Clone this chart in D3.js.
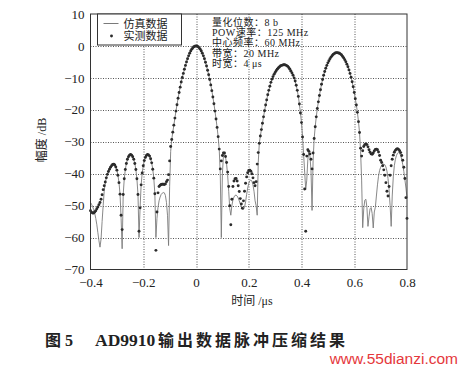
<!DOCTYPE html>
<html>
<head>
<meta charset="utf-8">
<script src="https://cdn.jsdelivr.net/npm/d3@7/dist/d3.min.js"></script>
<style>
  body { margin: 0; background: #fff; }
  svg { display: block; }
  .tick text { font-family: "Liberation Serif", "Times New Roman", serif; font-size: 13px; fill: #222; }
  .lbl { font-family: "Liberation Serif", "Noto Sans CJK SC", serif; fill: #222; }
</style>
</head>
<body>
<svg id="chart" width="463" height="368"></svg>
<script>
// sampling grid of the compressed output (us)
var t0 = -0.4, dt = 0.004;

var xTicks = [-0.4, -0.2, 0, 0.2, 0.4, 0.6, 0.8];
var yTicks = [10, 0, -10, -20, -30, -40, -50, -60, -70];

var seriesNames = ["仿真数据", "实测数据"];

var infoLines = ["量化位数：8 b", "POW速率：125 MHz", "中心频率：60 MHz", "带宽：20 MHz", "时宽：4 μs"];

// measured data, dB (dots)
var measured = [
  -51.6, -52.1, -52.3, -52.3, -52.0, -51.6, -51.0, -50.4, -49.7, -49.0,
  -48.0, -46.6, -45.0, -43.8, -42.6, -41.3, -40.2, -39.3, -38.6, -38.0,
  -37.5, -37.1, -37.0, -37.3, -37.9, -38.9, -40.5, -42.8, -46.4, -53.0,
  -57.5, -46.5, -41.6, -38.7, -36.8, -35.5, -34.7, -34.2, -34.0, -34.2,
  -34.7, -35.5, -36.8, -38.7, -41.6, -46.5, -58.0, -50.7, -43.5, -39.8,
  -37.5, -35.9, -34.9, -34.3, -34.0, -34.1, -34.5, -35.3, -36.6, -38.6,
  -41.4, -46.3, -64.0, -52.0, -46.0, -44.0, -43.6, -43.4, -43.3, -43.3,
  -43.4, -43.2, -42.5, -42.0, -40.3, -36.0, -31.5, -29.3, -27.0, -24.8,
  -22.6, -20.4, -18.4, -16.4, -14.6, -12.9, -11.3, -9.9, -8.6, -7.3,
  -6.1, -5.0, -4.0, -3.1, -2.3, -1.6, -1.0, -0.55, -0.25, -0.06,
  0, -0.06, -0.26, -0.58, -1.0, -1.6, -2.3, -3.1, -4.0, -5.1,
  -6.3, -7.6, -9.0, -10.5, -12.2, -14.0, -16.0, -18.1, -20.4, -22.9,
  -25.5, -28.4, -32.3, -38.5, -36.0, -34.3, -33.5, -33.5, -34.6, -36.5,
  -39.5, -44.0, -50.0, -56.0, -48.0, -44.0, -42.3, -41.6, -41.5, -42.3,
  -43.8, -45.6, -47.8, -49.5, -50.8, -48.5, -45.5, -43.0, -41.0, -39.7,
  -39.0, -38.9, -39.2, -40.0, -41.3, -42.8, -43.8, -42.5, -37.0, -33.4,
  -30.5, -28.2, -26.2, -24.2, -22.2, -20.3, -18.5, -16.9, -15.3, -13.9,
  -12.6, -11.4, -10.4, -9.6, -8.9, -8.3, -7.75, -7.3, -6.9, -6.6,
  -6.3, -6.1, -6.0, -5.9, -5.9, -6.0, -6.15, -6.4, -6.8, -7.3,
  -7.9, -8.5, -9.2, -10.0, -11.0, -12.3, -13.9, -15.8, -18.2, -21.0,
  -24.0, -28.5, -34.0, -44.8, -58.0, -34.5, -32.5, -33.0, -33.8, -35.5,
  -38.5, -33.5, -29.0, -25.3, -22.2, -19.6, -17.5, -15.5, -13.7, -12.0,
  -10.5, -9.2, -8.0, -7.0, -6.1, -5.3, -4.65, -4.0, -3.5, -3.05,
  -2.7, -2.4, -2.2, -2.1, -2.1, -2.2, -2.3, -2.55, -2.85, -3.3,
  -3.75, -4.3, -4.95, -5.7, -6.5, -7.5, -8.6, -9.8, -11.2, -12.8,
  -14.6, -16.5, -18.5, -20.8, -23.7, -27.1, -32.0, -34.5, -32.8, -31.5,
  -30.9, -30.7, -30.9, -31.6, -32.5, -33.3, -33.8, -33.9, -33.5, -32.9,
  -32.4, -32.3, -32.5, -33.2, -34.3, -35.8, -36.5, -37.5, -38.8, -40.5,
  -42.8, -45.5, -47.0, -44.0, -40.5, -37.5, -35.5, -34.2, -33.3, -32.7,
  -32.3, -32.2, -32.4, -32.8, -33.4, -34.3, -35.8, -38.0, -41.5, -47.5,
  -54.0
];

// simulated data, dB (thin line)
var simulated = [
  -49.0, -49.6, -50.3, -51.2, -52.4, -54.0, -56.0, -58.5, -61.0, -63.0,
  -60.5, -55.0, -50.0, -45.5, -42.8, -41.3, -40.2, -39.3, -38.6, -38.0,
  -37.5, -37.1, -37.0, -37.3, -37.9, -38.9, -40.5, -42.8, -46.4, -54.0,
  -63.5, -46.5, -41.6, -38.7, -36.8, -35.5, -34.7, -34.2, -34.0, -34.2,
  -34.7, -35.5, -36.8, -38.7, -41.6, -46.5, -60.0, -50.7, -43.5, -39.8,
  -37.5, -35.9, -34.9, -34.3, -34.0, -34.1, -34.5, -35.3, -36.6, -38.6,
  -41.4, -46.3, -60.0, -54.0, -50.5, -48.5, -47.3, -46.5, -46.1, -45.9,
  -46.0, -46.8, -49.0, -53.0, -62.5, -44.0, -33.0, -29.3, -27.0, -24.8,
  -22.6, -20.4, -18.4, -16.4, -14.6, -12.9, -11.3, -9.9, -8.6, -7.3,
  -6.1, -5.0, -4.0, -3.1, -2.3, -1.6, -1.0, -0.55, -0.25, -0.06,
  0, -0.06, -0.26, -0.58, -1.0, -1.6, -2.3, -3.1, -4.0, -5.1,
  -6.3, -7.6, -9.0, -10.5, -12.2, -14.0, -16.0, -18.1, -20.4, -22.9,
  -25.5, -28.4, -32.3, -40.0, -60.0, -40.0, -34.5, -33.5, -34.8, -37.0,
  -40.5, -45.5, -51.0, -53.0, -50.0, -48.2, -47.3, -46.8, -46.7, -47.0,
  -47.6, -48.5, -49.5, -50.4, -51.0, -51.2, -50.5, -48.8, -46.5, -44.5,
  -43.0, -42.2, -42.0, -42.3, -43.5, -45.5, -48.5, -50.0, -53.0, -36.5,
  -30.5, -28.2, -26.2, -24.2, -22.2, -20.3, -18.5, -16.9, -15.3, -13.9,
  -12.6, -11.4, -10.4, -9.6, -8.9, -8.3, -7.75, -7.3, -6.9, -6.6,
  -6.3, -6.1, -6.0, -5.9, -5.9, -6.0, -6.15, -6.4, -6.8, -7.3,
  -7.9, -8.5, -9.2, -10.0, -11.0, -12.3, -13.9, -15.8, -18.2, -21.0,
  -24.0, -28.5, -34.0, -39.5, -45.0, -42.0, -35.5, -33.4, -34.5, -39.0,
  -51.5, -36.0, -29.0, -25.3, -22.2, -19.6, -17.5, -15.5, -13.7, -12.0,
  -10.5, -9.2, -8.0, -7.0, -6.1, -5.3, -4.65, -4.0, -3.5, -3.05,
  -2.7, -2.4, -2.2, -2.1, -2.1, -2.2, -2.3, -2.55, -2.85, -3.3,
  -3.75, -4.3, -4.95, -5.7, -6.5, -7.5, -8.6, -9.8, -11.2, -12.8,
  -14.6, -16.5, -18.5, -20.8, -23.7, -27.1, -33.0, -42.0, -56.9, -51.0,
  -48.3, -48.0, -50.5, -56.5, -53.5, -51.0, -50.6, -52.5, -57.0, -52.0,
  -50.5, -47.0, -43.5, -40.8, -39.0, -38.0, -37.4, -37.1, -37.0, -37.2,
  -37.9, -39.2, -41.5, -45.0, -50.0, -56.5, -47.0, -41.0, -37.5, -35.5,
  -34.3, -33.6, -33.4, -33.6, -34.3, -35.5, -37.2, -39.3, -41.8, -44.5,
  -47.5
];

var svg = d3.select("#chart"),
    margin = {top: 14, left: 90.5, right: 56, bottom: 98.5},
    width = +svg.attr("width") - margin.left - margin.right,
    height = +svg.attr("height") - margin.top - margin.bottom;

var x = d3.scaleLinear().domain([-0.4, 0.8]).range([0, width]);
var y = d3.scaleLinear().domain([-70, 10]).range([height, 0]);

var fmt = function(d) { return d === 0 ? "0" : d3.format(".1f")(d); };
var fmtY = function(d) { return d3.format("d")(d); };

var g = svg.append("g")
    .attr("transform", "translate(" + margin.left + "," + margin.top + ")");

// dotted grid
var grid = g.append("g").attr("class", "grid");
grid.selectAll("line.gx")
  .data(xTicks.slice(1, -1))
  .enter().append("line")
    .attr("class", "gx")
    .attr("x1", function(d) { return Math.round(x(d)) + 0.5; })
    .attr("x2", function(d) { return Math.round(x(d)) + 0.5; })
    .attr("y1", 0).attr("y2", height);
grid.selectAll("line.gy")
  .data(yTicks.slice(1, -1))
  .enter().append("line")
    .attr("class", "gy")
    .attr("x1", 0).attr("x2", width)
    .attr("y1", function(d) { return Math.round(y(d)) + 0.5; })
    .attr("y2", function(d) { return Math.round(y(d)) + 0.5; });
grid.selectAll("line")
    .style("stroke", "#555")
    .style("stroke-width", 1)
    .style("stroke-dasharray", "1,1.5");

// axes labels
var yAxis = g.append("g")
    .call(d3.axisLeft(y).tickValues(yTicks).tickSize(0).tickPadding(6).tickFormat(fmtY));
var xAxis = g.append("g")
    .attr("transform", "translate(0," + height + ")")
    .call(d3.axisBottom(x).tickValues(xTicks).tickSize(0).tickPadding(8).tickFormat(fmt));
yAxis.select(".domain").remove();
xAxis.select(".domain").remove();

// simulated line
var line = d3.line()
    .x(function(d, i) { return x(t0 + i * dt); })
    .y(function(d) { return y(d); });

g.append("path")
    .datum(simulated)
    .attr("d", line)
    .style("fill", "none")
    .style("stroke", "#7a7a7a")
    .style("stroke-width", 0.9);

// measured dots
g.append("g")
  .selectAll("circle")
  .data(measured)
  .enter().append("circle")
    .attr("cx", function(d, i) { return x(t0 + i * dt); })
    .attr("cy", function(d) { return y(d); })
    .attr("r", 1.45)
    .style("fill", "#2b2b2b");

// frame
g.append("rect")
    .attr("x", 0).attr("y", 0)
    .attr("width", width).attr("height", height)
    .style("fill", "none")
    .style("stroke", "#333")
    .style("stroke-width", 1);

// legend
var leg = g.append("g").attr("transform", "translate(7,0)");
leg.append("rect")
    .attr("x", 0).attr("y", 0)
    .attr("width", 84).attr("height", 31)
    .style("fill", "#fff")
    .style("stroke", "#333");
leg.append("line")
    .attr("x1", 6).attr("x2", 21).attr("y1", 9.5).attr("y2", 9.5)
    .style("stroke", "#7a7a7a");
leg.append("circle")
    .attr("cx", 14).attr("cy", 22).attr("r", 1.45)
    .style("fill", "#2b2b2b");
leg.selectAll("text")
  .data(seriesNames)
  .enter().append("text")
    .attr("class", "lbl")
    .attr("x", 26)
    .attr("y", function(d, i) { return 13.5 + i * 12.5; })
    .style("font-size", "11px")
    .text(function(d) { return d; });

// parameter notes
g.append("g")
  .selectAll("text")
  .data(infoLines)
  .enter().append("text")
    .attr("class", "lbl")
    .attr("x", 121.5)
    .attr("y", function(d, i) { return 11.5 + i * 10.4; })
    .style("font-size", "10px")
    .style("letter-spacing", "0.5px")
    .text(function(d) { return d; });

// axis titles
svg.append("text")
    .attr("class", "lbl")
    .attr("transform", "translate(46,140) rotate(-90)")
    .attr("text-anchor", "middle")
    .style("font-size", "12px")
    .text("幅度 /dB");

svg.append("text")
    .attr("class", "lbl")
    .attr("x", 252).attr("y", 305)
    .attr("text-anchor", "middle")
    .style("font-size", "12px")
    .text("时间 /μs");

// caption
var cap = svg.append("text")
    .attr("class", "lbl")
    .attr("y", 346)
    .style("font-size", "16px")
    .style("font-weight", "bold");
cap.append("tspan").attr("x", 45).text("图 5");
cap.append("tspan").attr("x", 95).style("font-size", "17.5px").text("AD9910");
cap.append("tspan").attr("x", 158).style("letter-spacing", "3px").text("输出数据脉冲压缩结果");

svg.append("text")
    .attr("x", 458).attr("y", 364)
    .attr("text-anchor", "end")
    .style("font-family", "Liberation Sans, Arial, sans-serif")
    .style("font-size", "15.5px")
    .style("fill", "#e5383b")
    .text("www.55dianzi.com");
</script>
</body>
</html>
